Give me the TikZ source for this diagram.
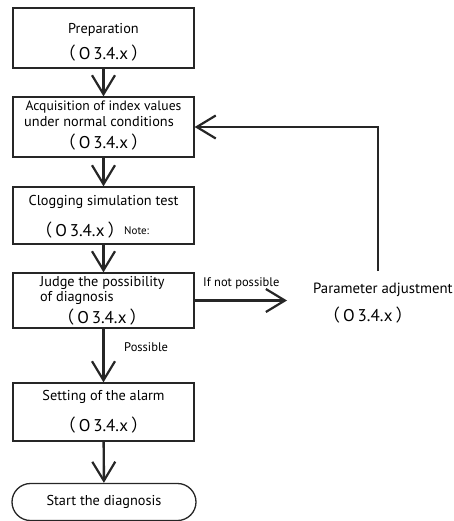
\documentclass[tikz,border=0pt]{standalone}
\usepackage{fontspec}
\setmainfont{PT Sans}
\newfontfamily\cjk{Noto Sans CJK SC}
\usetikzlibrary{arrows.meta,shapes.misc}
\newcommand{\osec}{{\fontsize{17}{19}\selectfont{\cjk （}\hspace{3pt}O\,3.4.x\hspace{3pt}{\cjk ）}}}
\tikzset{
  box/.style={draw=black!85, line width=1.3pt, minimum width=181pt, inner sep=0pt},
  txt/.style={font=\fontsize{14.3}{16}\selectfont, inner sep=0pt, anchor=center},
  small/.style={font=\fontsize{12.5}{14}\selectfont, inner sep=0pt},
  flow/.style={draw=black!85, line width=2.4pt, -{Straight Barb[length=19pt,width=23pt,line width=2.2pt]}},
}
\begin{document}
\begin{tikzpicture}[x=1pt,y=-1pt]
\useasboundingbox (0,0) rectangle (454,521);
% boxes
\node[box, minimum height=60pt] (b1) at (103.5,38) {};
\node[box, minimum height=60pt] (b2) at (103.5,127) {};
\node[box, minimum height=57pt] (b3) at (103.5,215.5) {};
\node[box, minimum height=55pt] (b4) at (103.5,300.5) {};
\node[box, minimum height=58pt] (b5) at (103.5,412) {};
\node[draw=black!85, line width=1.3pt, rounded rectangle, minimum width=184pt, minimum height=37pt, inner sep=0pt] (end) at (104,502) {};
% texts
\node[txt] (t1a) at (103.5,30) {Preparation};
\node[txt] (t1b) at (103.5,53) {\osec};
\node[txt, font=\fontsize{13.6}{16}\selectfont] (t2a) at (103.5,107) {Acquisition of index values};
\node[txt] (t2b) at (99,122) {under normal conditions};
\node[txt] (t2c) at (103.5,142) {\osec};
\node[txt] (t3a) at (103.5,202) {Clogging simulation test};
\node[txt] (t3b) at (80,230) {\osec};
\node[small, font=\fontsize{11}{13}\selectfont, anchor=west] (note) at (124,231) {Note:};
\node[txt, anchor=west] (t4a) at (40,283) {Judge the possibility};
\node[txt, anchor=west] (t4b) at (40,298) {of diagnosis};
\node[txt] (t4c) at (102,317) {\osec};
\node[txt] (t5a) at (103.5,397) {Setting of the alarm};
\node[txt] (t5b) at (103.5,425) {\osec};
\node[txt] (t6) at (104,502) {Start the diagnosis};
\node[small, anchor=west] (poss) at (124,347) {Possible};
\node[small, anchor=west] (ifnot) at (203,283) {If not possible};
\node[txt, font=\fontsize{14.8}{16}\selectfont, anchor=west] (pa) at (313,290) {Parameter adjustment};
\node[txt, anchor=west] (pb) at (323,315) {\osec};
% connectors
\coordinate (fb) at (378,271);
\coordinate (fbtop) at (378,127);
\coordinate (nt) at (287,300.5);
\draw[flow] (b1) -- (b2);
\draw[flow] (b2) -- (b3);
\draw[flow] (b3) -- (b4);
\draw[flow] (b4) -- (b5);
\draw[flow] (b5) -- (end);
\draw[flow] (b4.east) -- (nt);
\draw[flow] (fb) -- (fbtop) -- (b2.east);
\end{tikzpicture}
\end{document}
